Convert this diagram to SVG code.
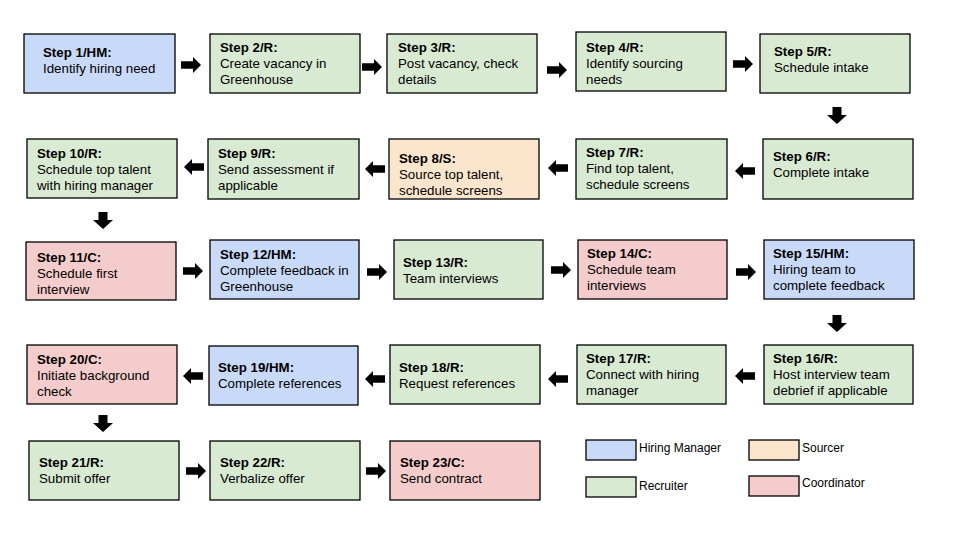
<svg xmlns="http://www.w3.org/2000/svg" width="960" height="540" viewBox="0 0 960 540">
<style>
.box{stroke:#000;stroke-width:1.3}
.hm{fill:#c9daf8}.r{fill:#d9ead3}.s{fill:#fce5cd}.c{fill:#f4cccc}
text{font-family:"Liberation Sans",Arial,sans-serif;font-size:13.3px;fill:#000}
.b{font-weight:bold}
.lg{font-size:12px}
.arr{fill:#000}
</style>
<defs>
<path id="ra" d="M0,-3.7 H12 V-8 L20,0 L12,8 V3.7 H0 Z"/>
<path id="la" d="M20,-3.7 H8 V-8 L0,0 L8,8 V3.7 H20 Z"/>
<path id="da" d="M-4.5,0 H4.5 V8 H10 L0,17 L-10,8 H-4.5 Z"/>
</defs>
<rect width="960" height="540" fill="#fff"/>
<g id="connectors" class="arr">
<use href="#ra" x="181" y="65"/>
<use href="#ra" x="362" y="67"/>
<use href="#ra" x="547" y="70"/>
<use href="#ra" x="733" y="64"/>
<use href="#da" x="837" y="107"/>
<use href="#la" x="735" y="171"/>
<use href="#la" x="548" y="168"/>
<use href="#la" x="365" y="169"/>
<use href="#la" x="184" y="167"/>
<use href="#da" x="103" y="212"/>
<use href="#ra" x="183" y="271"/>
<use href="#ra" x="367" y="272"/>
<use href="#ra" x="551" y="270"/>
<use href="#ra" x="736" y="272"/>
<use href="#da" x="837" y="315"/>
<use href="#la" x="735" y="376"/>
<use href="#la" x="548" y="379"/>
<use href="#la" x="365" y="379"/>
<use href="#la" x="183" y="376"/>
<use href="#da" x="103" y="415"/>
<use href="#ra" x="186" y="471"/>
<use href="#ra" x="366" y="471"/>
</g>
<g id="step1"><rect class="box hm" x="24" y="34" width="151" height="59"/><text x="43" y="57"><tspan class="b">Step 1/HM:</tspan><tspan x="43" dy="16">Identify hiring need</tspan></text></g>
<g id="step2"><rect class="box r" x="210" y="34" width="150" height="59"/><text x="220" y="52"><tspan class="b">Step 2/R:</tspan><tspan x="220" dy="16">Create vacancy in</tspan><tspan x="220" dy="16">Greenhouse</tspan></text></g>
<g id="step3"><rect class="box r" x="387" y="34" width="150" height="59"/><text x="398" y="52"><tspan class="b">Step 3/R:</tspan><tspan x="398" dy="16">Post vacancy, check</tspan><tspan x="398" dy="16">details</tspan></text></g>
<g id="step4"><rect class="box r" x="576" y="32" width="150" height="59"/><text x="586" y="52"><tspan class="b">Step 4/R:</tspan><tspan x="586" dy="16">Identify sourcing</tspan><tspan x="586" dy="16">needs</tspan></text></g>
<g id="step5"><rect class="box r" x="760" y="34" width="150" height="59"/><text x="774" y="56"><tspan class="b">Step 5/R:</tspan><tspan x="774" dy="16">Schedule intake</tspan></text></g>
<g id="step6"><rect class="box r" x="763" y="139" width="150" height="60"/><text x="773" y="161"><tspan class="b">Step 6/R:</tspan><tspan x="773" dy="16">Complete intake</tspan></text></g>
<g id="step7"><rect class="box r" x="576" y="139" width="151" height="60"/><text x="586" y="157"><tspan class="b">Step 7/R:</tspan><tspan x="586" dy="16">Find top talent,</tspan><tspan x="586" dy="16">schedule screens</tspan></text></g>
<g id="step8"><rect class="box s" x="389" y="139" width="150" height="60"/><text x="399" y="162.5"><tspan class="b">Step 8/S:</tspan><tspan x="399" dy="16">Source top talent,</tspan><tspan x="399" dy="16">schedule screens</tspan></text></g>
<g id="step9"><rect class="box r" x="208" y="139" width="151" height="60"/><text x="218" y="158"><tspan class="b">Step 9/R:</tspan><tspan x="218" dy="16">Send assessment if</tspan><tspan x="218" dy="16">applicable</tspan></text></g>
<g id="step10"><rect class="box r" x="27" y="139" width="150" height="59"/><text x="37" y="158"><tspan class="b">Step 10/R:</tspan><tspan x="37" dy="16">Schedule top talent</tspan><tspan x="37" dy="16">with hiring manager</tspan></text></g>
<g id="step11"><rect class="box c" x="26" y="242" width="150" height="58"/><text x="37" y="262"><tspan class="b">Step 11/C:</tspan><tspan x="37" dy="16">Schedule first</tspan><tspan x="37" dy="16">interview</tspan></text></g>
<g id="step12"><rect class="box hm" x="210" y="240" width="149" height="59"/><text x="220" y="259"><tspan class="b">Step 12/HM:</tspan><tspan x="220" dy="16">Complete feedback in</tspan><tspan x="220" dy="16">Greenhouse</tspan></text></g>
<g id="step13"><rect class="box r" x="394" y="240" width="149" height="59"/><text x="403" y="267"><tspan class="b">Step 13/R:</tspan><tspan x="403" dy="16">Team interviews</tspan></text></g>
<g id="step14"><rect class="box c" x="578" y="240" width="149" height="59"/><text x="587" y="258"><tspan class="b">Step 14/C:</tspan><tspan x="587" dy="16">Schedule team</tspan><tspan x="587" dy="16">interviews</tspan></text></g>
<g id="step15"><rect class="box hm" x="764" y="240" width="150" height="59"/><text x="773" y="258"><tspan class="b">Step 15/HM:</tspan><tspan x="773" dy="16">Hiring team to</tspan><tspan x="773" dy="16">complete feedback</tspan></text></g>
<g id="step16"><rect class="box r" x="764" y="345" width="149" height="59"/><text x="773" y="363"><tspan class="b">Step 16/R:</tspan><tspan x="773" dy="16">Host interview team</tspan><tspan x="773" dy="16">debrief if applicable</tspan></text></g>
<g id="step17"><rect class="box r" x="577" y="345" width="149" height="59"/><text x="586" y="363"><tspan class="b">Step 17/R:</tspan><tspan x="586" dy="16">Connect with hiring</tspan><tspan x="586" dy="16">manager</tspan></text></g>
<g id="step18"><rect class="box r" x="390" y="345" width="150" height="59"/><text x="399" y="372"><tspan class="b">Step 18/R:</tspan><tspan x="399" dy="16">Request references</tspan></text></g>
<g id="step19"><rect class="box hm" x="209" y="346" width="149" height="59"/><text x="218" y="372"><tspan class="b">Step 19/HM:</tspan><tspan x="218" dy="16">Complete references</tspan></text></g>
<g id="step20"><rect class="box c" x="27" y="345" width="150" height="59"/><text x="37" y="364"><tspan class="b">Step 20/C:</tspan><tspan x="37" dy="16">Initiate background</tspan><tspan x="37" dy="16">check</tspan></text></g>
<g id="step21"><rect class="box r" x="29" y="441" width="150" height="59"/><text x="39" y="467"><tspan class="b">Step 21/R:</tspan><tspan x="39" dy="16">Submit offer</tspan></text></g>
<g id="step22"><rect class="box r" x="210" y="441" width="150" height="59"/><text x="220" y="467"><tspan class="b">Step 22/R:</tspan><tspan x="220" dy="16">Verbalize offer</tspan></text></g>
<g id="step23"><rect class="box c" x="390" y="441" width="150" height="59"/><text x="400" y="467"><tspan class="b">Step 23/C:</tspan><tspan x="400" dy="16">Send contract</tspan></text></g>
<g id="legend">
<rect class="box hm" x="586" y="440" width="50" height="20"/><text class="lg" x="639" y="452">Hiring Manager</text>
<rect class="box r" x="586" y="477" width="50" height="20"/><text class="lg" x="639" y="490">Recruiter</text>
<rect class="box s" x="749" y="440" width="50" height="20"/><text class="lg" x="802" y="452">Sourcer</text>
<rect class="box c" x="749" y="476" width="50" height="20"/><text class="lg" x="802" y="487">Coordinator</text>
</g>
</svg>
